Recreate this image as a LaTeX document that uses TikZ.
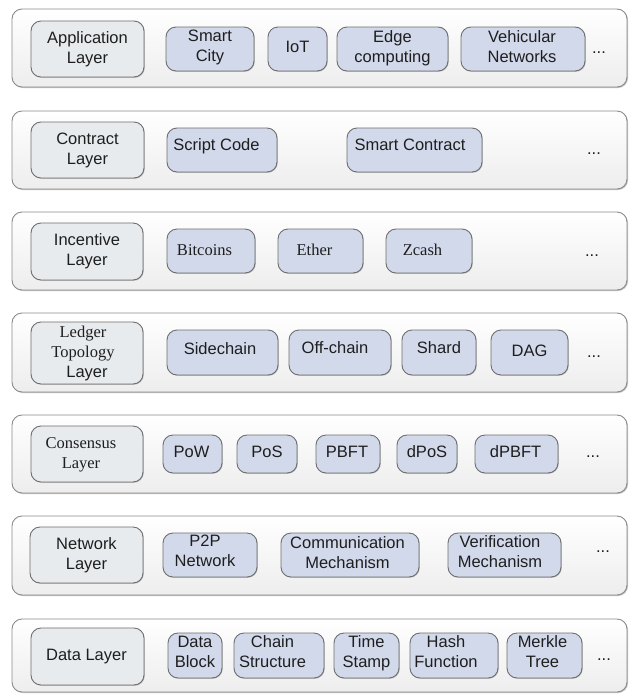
\documentclass[tikz,border=0pt]{standalone}
\usepackage{fontspec}
\setmainfont{Liberation Sans}
\newfontfamily\tnr{Liberation Serif}
\usetikzlibrary{shadows}

\definecolor{layerfill}{HTML}{E8EBEE}
\definecolor{itemfill}{HTML}{D2D9EB}
\definecolor{edgegray}{HTML}{6E6E6E}
\definecolor{outergray}{HTML}{8A8A8A}
\definecolor{inkc}{HTML}{1E1E1E}

\tikzset{
  band/.style={draw=outergray, line width=0.9pt, rounded corners=10pt,
    top color=white, bottom color=black!7,
    drop shadow={shadow xshift=1pt, shadow yshift=-1pt, opacity=0.35, fill=black!70}},
  layerbox/.style={draw=edgegray, line width=0.9pt, rounded corners=10pt, fill=layerfill,
    inner sep=0pt, text=inkc,
    drop shadow={shadow xshift=0.8pt, shadow yshift=-0.8pt, opacity=0.3, fill=black!70}},
  itembox/.style={draw=edgegray, line width=0.9pt, rounded corners=10pt, fill=itemfill,
    inner sep=0pt, text=inkc,
    drop shadow={shadow xshift=0.8pt, shadow yshift=-0.8pt, opacity=0.3, fill=black!70}},
  more/.style={anchor=base, inner sep=0pt, text=inkc}
}

% move the ink of a label by (dx,dy) without changing its box
\newcommand{\shiftink}[3]{%
  \raisebox{#2pt}[\height][\depth]{\kern#1pt\relax#3\kern-#1pt\relax}}

% rounded box from its corner coordinates:
% style, name, x1, y1, x2, y2, text dx, text dy, text (lines split by \\)
\newcommand{\rbox}[9]{%
  \pgfmathsetmacro\rbcx{(#3+#5)/2}%
  \pgfmathsetmacro\rbcy{(#4+#6)/2}%
  \pgfmathsetmacro\rbw{#5-#3}%
  \pgfmathsetmacro\rbh{#6-#4}%
  \node[#1, minimum width=\rbw pt, minimum height=\rbh pt] (#2) at (\rbcx,\rbcy)
    {\shiftink{#7}{#8}{\begin{tabular}{@{}c@{}}#9\end{tabular}}};}

\begin{document}
\begin{tikzpicture}[x=1pt, y=-1pt, font=\fontsize{16.5}{20}\selectfont]
\useasboundingbox (0,0) rectangle (633,694);

% application layer
\node[band, minimum width=615pt, minimum height=78pt] (appband) at (319.5,48) {};
\rbox{layerbox}{app}{31}{21}{144}{77}{0}{0}{Application\\Layer}
\rbox{itembox}{smartcity}{166}{27}{254}{71}{0}{1.5}{Smart\\City}
\rbox{itembox}{iot}{268}{27}{327}{71}{0}{1}{IoT}
\rbox{itembox}{edge}{337}{27}{448}{71}{0}{1}{Edge\\computing}
\rbox{itembox}{vehicular}{461}{27}{585}{71}{-1}{1}{Vehicular\\Networks}
\node[more] (appmore) at (599,53) {...};

% contract layer
\node[band, minimum width=615pt, minimum height=78pt] (conband) at (319.5,150) {};
\rbox{layerbox}{contract}{31}{122}{144}{178}{0}{0}{Contract\\Layer}
\rbox{itembox}{script}{167}{128}{277}{172}{-5.5}{4}{Script Code}
\rbox{itembox}{smartcontract}{347}{128}{482}{172}{-4.5}{4}{Smart Contract}
\node[more] (conmore) at (594,154) {...};

% incentive layer
\node[band, minimum width=615pt, minimum height=78pt] (incband) at (319.5,251) {};
\rbox{layerbox}{incentive}{31}{223}{143}{280}{0}{0}{Incentive\\Layer}
\rbox{itembox}{bitcoins}{167}{229}{255}{273}{-6.5}{0}{\tnr Bitcoins}
\rbox{itembox}{ether}{278}{229}{363}{273}{-6}{0}{\tnr Ether}
\rbox{itembox}{zcash}{386}{229}{472}{273}{-6.5}{0}{\tnr Zcash}
\node[more] (incmore) at (592,256) {...};

% ledger topology layer
\node[band, minimum width=615pt, minimum height=79pt] (ledband) at (319.5,352.5) {};
\rbox{layerbox}{ledger}{31}{322}{143}{384}{0}{0}{{\tnr Ledger}\kern8pt\\{\tnr Topology}\kern8pt\\Layer}
\rbox{itembox}{sidechain}{167}{330}{278}{375}{-2.5}{2}{Sidechain}
\rbox{itembox}{offchain}{289}{330}{391}{375}{-5}{3}{Off-chain}
\rbox{itembox}{shard}{402}{330}{476}{375}{0}{3}{Shard}
\rbox{itembox}{dag}{491}{330}{568}{375}{0}{0}{DAG}
\node[more] (ledmore) at (594,357) {...};

% consensus layer
\node[band, minimum width=615pt, minimum height=78pt] (cnsband) at (319.5,454) {};
\rbox{layerbox}{consensus}{31}{426}{143}{482}{-6}{0}{\tnr Consensus\\\tnr Layer}
\rbox{itembox}{pow}{163}{435}{222}{473}{-1}{0.5}{PoW}
\rbox{itembox}{pos}{237}{435}{297}{473}{0}{0.5}{PoS}
\rbox{itembox}{pbft}{316}{435}{380}{473}{-1}{0.5}{PBFT}
\rbox{itembox}{dpos}{397}{435}{457}{473}{0}{0.5}{dPoS}
\rbox{itembox}{dpbft}{475}{435}{558}{473}{-1}{0.5}{dPBFT}
\node[more] (cnsmore) at (593,457) {...};

% network layer
\node[band, minimum width=615pt, minimum height=79pt] (netband) at (319.5,555.5) {};
\rbox{layerbox}{network}{30}{527}{143}{583}{0}{0}{Network\\Layer}
\rbox{itembox}{ptp}{163}{533}{257}{577}{-5}{3}{P2P\\Network}
\rbox{itembox}{comm}{281}{533}{419}{577}{-2.5}{1}{Communication\\Mechanism}
\rbox{itembox}{verif}{448}{533}{561}{577}{-4.5}{2}{Verification\\Mechanism}
\node[more] (netmore) at (603,552) {...};

% data layer
\node[band, minimum width=615pt, minimum height=73pt] (datband) at (319.5,655.5) {};
\rbox{layerbox}{data}{31}{628}{144}{685}{-1}{0}{Data Layer}
\rbox{itembox}{block}{168}{633}{222}{678}{0}{2}{Data\\Block}
\rbox{itembox}{chain}{234}{633}{324}{678}{-6.5}{2}{Chain\\Structure}
\rbox{itembox}{stamp}{334}{633}{399}{678}{0}{2}{Time\\Stamp}
\rbox{itembox}{hash}{410}{633}{498}{678}{-8}{2}{Hash\\Function}
\rbox{itembox}{merkle}{507}{633}{582}{678}{-2}{2}{Merkle\\Tree}
\node[more] (datmore) at (604,660) {...};
\end{tikzpicture}
\end{document}
